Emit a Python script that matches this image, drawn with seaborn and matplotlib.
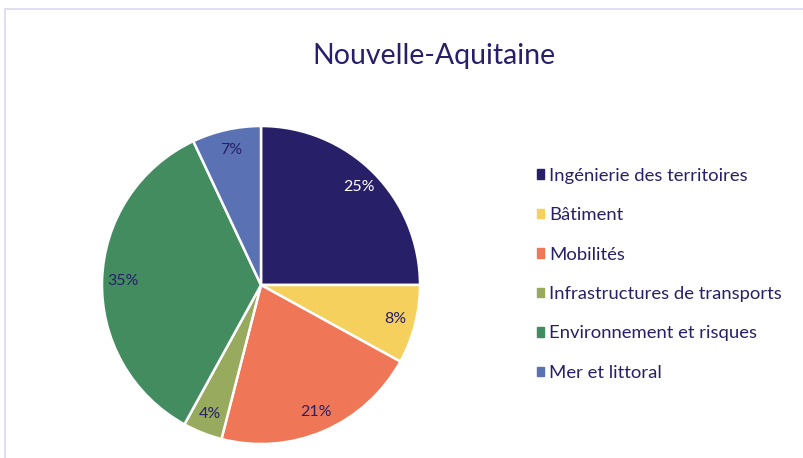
import matplotlib
matplotlib.use("Agg")
import matplotlib.pyplot as plt
import matplotlib.patches as mpatches
import seaborn as sns

# data
categories = ["Ingénierie des territoires", "Bâtiment", "Mobilités",
              "Infrastructures de transports", "Environnement et risques",
              "Mer et littoral"]
shares = [25, 8, 21, 4, 35, 7]
colors = ["#272068", "#f6d05c", "#ef7757", "#98aa5d", "#428c60", "#5a71b4"]
label_colors = ["white", "#272068", "#272068", "#272068", "#272068", "#272068"]
title = "Nouvelle-Aquitaine"

sns.set_theme(style="white")
plt.rcParams["font.family"] = ["Lato", "DejaVu Sans"]
navy = "#272068"

fig = plt.figure(figsize=(8.04, 4.58), dpi=100)

# light frame around the chart area
fig.patches.append(mpatches.Rectangle((5 / 804, -0.05), 1.2, 1 - 9 / 458 + 0.05,
                                      transform=fig.transFigure, fill=False,
                                      edgecolor="#d9d9ee", linewidth=1.2))

r_px = 159
ax = fig.add_axes([(261 - r_px) / 804, (458 - 285 - r_px) / 458,
                   2 * r_px / 804, 2 * r_px / 458])
palette = sns.color_palette(colors)
wedges, texts, autotexts = ax.pie(
    shares, colors=palette, startangle=90, counterclock=False,
    autopct="%1.0f%%", pctdistance=0.87, radius=1,
    wedgeprops=dict(edgecolor="white", linewidth=1.8),
    textprops=dict(fontsize=11.5))
for t, c in zip(autotexts, label_colors):
    t.set_color(c)
ax.set_xlim(-1.0, 1.0)
ax.set_ylim(-1.0, 1.0)
ax.set_aspect("equal")
ax.axis("off")

fig.text(434 / 804, 1 - 56 / 458, title, ha="center", va="center",
         fontsize=20.5, color=navy)

handles = [mpatches.Patch(color=c) for c in palette]
fig.legend(handles, categories, loc="upper left",
           bbox_to_anchor=(520 / 804, 1 - 151 / 458), frameon=False,
           fontsize=13.3, labelcolor=navy, handlelength=0.42,
           handleheight=0.42, handletextpad=0.25, labelspacing=1.27)

fig.savefig("out.png", dpi=100, facecolor="white")
